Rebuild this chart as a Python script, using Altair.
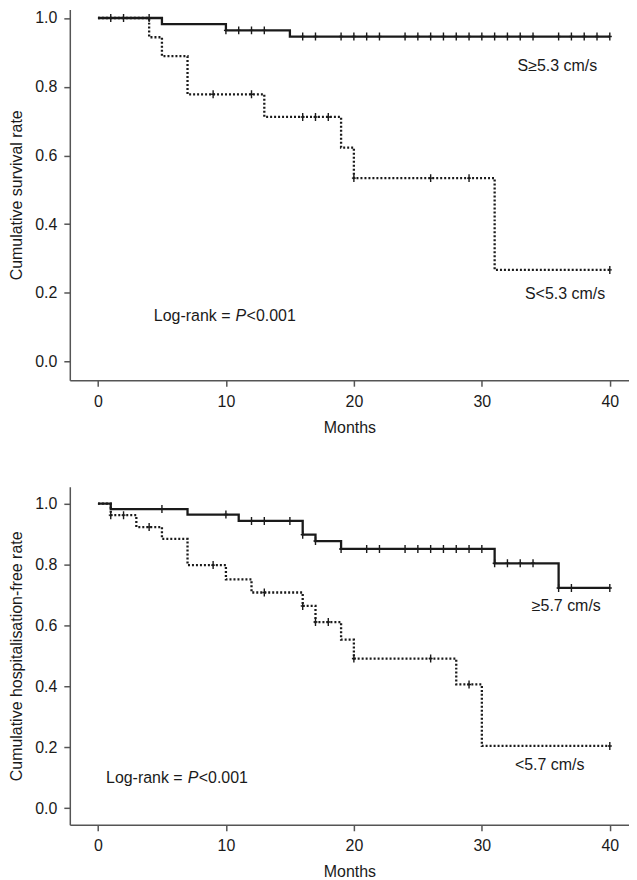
import altair as alt
import pandas as pd

# ---------------- data ----------------
# Top panel: cumulative survival
top_hi_t = [0, 5, 10, 15, 40]
top_hi_s = [1.0, 0.982, 0.964, 0.946, 0.946]
top_hi_cens = [1, 2, 4, 10, 11, 12, 13, 16, 17, 19, 20, 21, 22, 24, 25, 26, 27,
               28, 29, 30, 31, 32, 33, 34, 36, 37, 38, 39, 40]
top_lo_t = [0, 4, 5, 7, 13, 19, 20, 31, 40]
top_lo_s = [1.0, 0.944, 0.889, 0.778, 0.712, 0.623, 0.534, 0.267, 0.267]
top_lo_cens = [9, 12, 16, 17, 18, 20, 26, 29, 40]

# Bottom panel: cumulative hospitalisation-free
bot_hi_t = [0, 1, 7, 11, 16, 17, 19, 31, 36, 40]
bot_hi_s = [1.0, 0.982, 0.964, 0.943, 0.898, 0.877, 0.851, 0.804, 0.723, 0.723]
bot_hi_cens = [5, 10, 12, 13, 15, 16, 17, 19, 21, 22, 24, 25, 26, 27, 28, 29,
               30, 31, 32, 33, 34, 36, 37, 40]
bot_lo_t = [0, 1, 3, 5, 7, 10, 12, 16, 17, 19, 20, 28, 30, 40]
bot_lo_s = [1.0, 0.962, 0.923, 0.884, 0.798, 0.751, 0.708, 0.664, 0.611,
            0.553, 0.491, 0.406, 0.204, 0.204]
bot_lo_cens = [1, 2, 4, 9, 13, 16, 17, 18, 20, 26, 29, 40]

x_ticks = [0, 10, 20, 30, 40]
y_ticks = [0.0, 0.2, 0.4, 0.6, 0.8, 1.0]

FONT = "Liberation Sans"
FS = 16
INK = "#1a1a1a"
AX = "#555555"
PLUS = "M0,-1L0,1M-0.5,0L0.5,0"


def step_value(ts, ss, t):
    v = ss[0]
    for ti, si in zip(ts, ss):
        if ti <= t:
            v = si
    return v


def curve_df(ts, ss):
    return pd.DataFrame({"t": ts, "s": ss})


def cens_df(ts, ss, cens):
    return pd.DataFrame({"t": cens, "s": [step_value(ts, ss, c) for c in cens]})


def panel(hi, lo, labels, logrank, ytitle, ydom, height):
    xs = alt.Scale(domain=[-2.2, 41.5], nice=False, zero=False)
    ys = alt.Scale(domain=ydom, nice=False, zero=False)
    xax = alt.Axis(values=x_ticks, title="Months", grid=False, tickSize=6,
                   labelPadding=7, titlePadding=10, format="d")
    yax = alt.Axis(values=y_ticks, title=ytitle, grid=False, tickSize=6,
                   labelPadding=7, titlePadding=10, format=".1f")

    def line(ts, ss, dash):
        kw = dict(interpolate="step-after", color=INK, strokeWidth=2.3)
        if dash:
            kw["strokeDash"] = [2, 2]
        return alt.Chart(curve_df(ts, ss)).mark_line(**kw).encode(
            x=alt.X("t:Q", scale=xs, axis=xax),
            y=alt.Y("s:Q", scale=ys, axis=yax),
        )

    def marks(ts, ss, cens):
        return alt.Chart(cens_df(ts, ss, cens)).mark_point(
            shape=PLUS, size=64, filled=False, color=INK, strokeWidth=1.4, opacity=1
        ).encode(x=alt.X("t:Q", scale=xs), y=alt.Y("s:Q", scale=ys))

    layers = [
        line(hi[0], hi[1], False),
        line(lo[0], lo[1], True),
        marks(*hi),
        marks(*lo),
    ]
    lab_df = pd.DataFrame(labels, columns=["t", "s", "txt"])
    layers.append(
        alt.Chart(lab_df).mark_text(font=FONT, fontSize=FS, color=INK, align="center",
                                    baseline="middle").encode(
            x=alt.X("t:Q", scale=xs), y=alt.Y("s:Q", scale=ys), text="txt:N")
    )
    lt, ls = logrank
    parts = [("Log-rank = ", 0, "normal"), ("P", 82, "italic"), ("<0.001", 93, "normal")]
    for txt, dx, style in parts:
        layers.append(
            alt.Chart(pd.DataFrame({"t": [lt], "s": [ls], "txt": [txt]})).mark_text(
                font=FONT, fontSize=FS, color=INK, align="left", baseline="middle",
                dx=dx, fontStyle=style).encode(
                x=alt.X("t:Q", scale=xs), y=alt.Y("s:Q", scale=ys), text="txt:N")
        )
    return alt.layer(*layers).properties(width=561, height=height)


top = panel(
    (top_hi_t, top_hi_s, top_hi_cens),
    (top_lo_t, top_lo_s, top_lo_cens),
    [(35.9, 0.86, "S≥5.3 cm/s"), (36.5, 0.196, "S<5.3 cm/s")],
    (4.37, 0.132),
    "Cumulative survival rate",
    [-0.054, 1.025],
    372,
)
bottom = panel(
    (bot_hi_t, bot_hi_s, bot_hi_cens),
    (bot_lo_t, bot_lo_s, bot_lo_cens),
    [(36.6, 0.662, "≥5.7 cm/s"), (35.3, 0.142, "<5.7 cm/s")],
    (0.63, 0.098),
    "Cumulative hospitalisation-free rate",
    [-0.055, 1.055],
    339,
)

chart = alt.vconcat(top, bottom, spacing=52).properties(padding=0).configure_view(
    stroke=None
).configure_axis(
    domainColor=AX, domainWidth=1.5, tickColor=AX, tickWidth=1.5,
    labelFont=FONT, labelFontSize=FS, labelColor=INK,
    titleFont=FONT, titleFontSize=FS, titleFontWeight="normal", titleColor=INK,
)

chart.save("out.html", embed_options={"renderer": "svg", "actions": False})
